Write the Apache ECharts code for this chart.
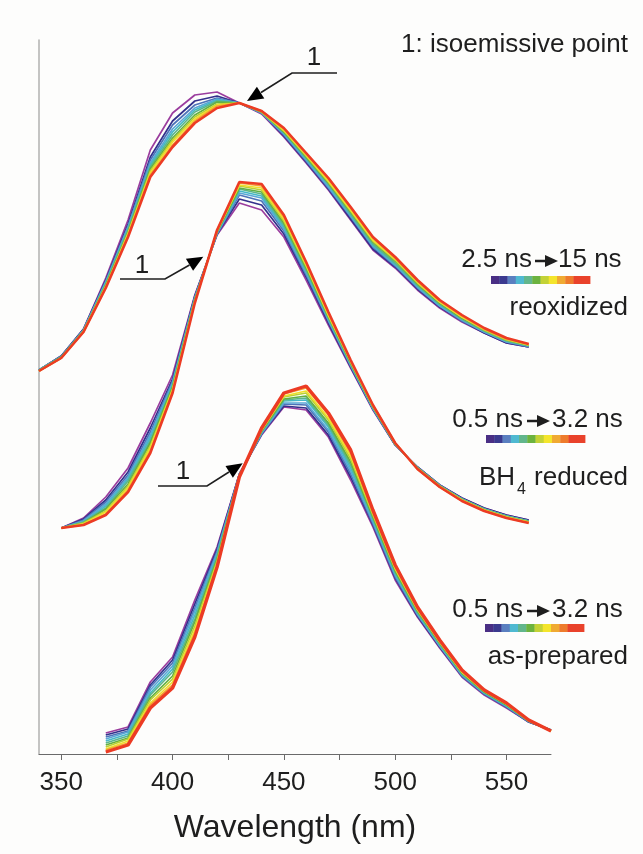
<!DOCTYPE html>
<html>
<head>
<meta charset="utf-8">
<script src="https://cdn.jsdelivr.net/npm/echarts@6/dist/echarts.min.js"></script>
<style>
html, body { margin: 0; padding: 0; background: #fdfdfc; }
#chart { width: 643px; height: 854px; }
</style>
</head>
<body>
<div id="chart"></div>
<script>
// wavelength grids (nm) for the three sets of spectra
const wlReox = [340, 350, 360, 370, 380, 390, 400, 410, 420, 430, 440, 450, 460, 470, 480, 490, 500, 510, 520, 530, 540, 550, 560];
const wlBH4 = [350, 360, 370, 380, 390, 400, 410, 420, 430, 440, 450, 460, 470, 480, 490, 500, 510, 520, 530, 540, 550, 560];
const wlAsPrep = [370, 380, 390, 400, 410, 420, 430, 440, 450, 460, 470, 480, 490, 500, 510, 520, 530, 540, 550, 560, 570];

// gate colours, early (purple) -> late (red)
const gateColors = ['#9b3d9e', '#33308c', '#4e73b8', '#5aa6d6', '#45b8c8', '#5bb58a', '#62b043', '#b9d033', '#f0df2a', '#f3a12e', '#ec3b24'];
const barColors = ['#4a2f85', '#3b3a8f', '#5a7fc0', '#4fb9d1', '#62b68c', '#6cb33f', '#c3d236', '#f4e52c', '#f0aa32', '#ee7b2c', '#e9422b', '#e9422b'];

// intensity (a.u., offset per set), one row per wavelength, one column per gate
const reoxidized = [
  [384, 384, 384, 384, 384, 384, 383, 383, 383, 383, 383],
  [398, 398, 398, 397, 397, 397, 397, 396, 396, 396, 396],
  [425, 425, 424, 424, 424, 423, 423, 423, 422, 422, 422],
  [476, 474, 473, 472, 471, 470, 469, 468, 467, 467, 466],
  [534, 530, 528, 527, 525, 524, 522, 521, 520, 518, 517],
  [604, 597, 594, 591, 589, 587, 585, 583, 581, 579, 577],
  [641, 633, 629, 625, 622, 619, 616, 614, 612, 609, 607],
  [659, 653, 649, 646, 644, 642, 639, 637, 635, 633, 631],
  [662, 658, 656, 655, 654, 653, 652, 650, 649, 648, 646],
  [651, 651, 651, 651, 651, 651, 651, 651, 651, 651, 651],
  [640, 641, 641, 641, 642, 642, 642, 642, 643, 643, 643],
  [617, 618, 619, 620, 621, 622, 622, 623, 624, 625, 626],
  [591, 592, 593, 594, 595, 596, 597, 598, 599, 600, 601],
  [564, 565, 566, 567, 569, 570, 571, 572, 573, 575, 576],
  [534, 535, 537, 538, 539, 540, 542, 543, 544, 546, 547],
  [504, 505, 507, 508, 509, 510, 512, 513, 514, 516, 517],
  [486, 487, 488, 489, 490, 491, 493, 494, 495, 496, 497],
  [464, 465, 466, 467, 468, 469, 470, 471, 472, 473, 474],
  [446, 447, 448, 448, 449, 450, 451, 452, 452, 453, 454],
  [432, 433, 433, 434, 435, 435, 436, 437, 437, 438, 439],
  [421, 421, 422, 422, 423, 423, 424, 424, 425, 425, 426],
  [411, 411, 412, 412, 413, 413, 414, 414, 415, 415, 416],
  [407, 407, 407, 408, 408, 408, 409, 409, 409, 410, 410]
];

const bh4Reduced = [
  [226, 226, 226, 226, 226, 226, 226, 226, 226, 226, 226],
  [236, 235, 234, 233, 232, 232, 231, 231, 230, 229, 229],
  [257, 254, 252, 250, 248, 246, 245, 243, 242, 240, 239],
  [286, 282, 279, 277, 275, 273, 270, 268, 266, 264, 262],
  [331, 326, 322, 319, 316, 313, 311, 308, 306, 303, 301],
  [379, 375, 373, 371, 370, 368, 367, 365, 364, 362, 361],
  [459, 458, 457, 456, 455, 455, 454, 453, 452, 452, 451],
  [519, 520, 520, 521, 521, 522, 522, 523, 523, 524, 524],
  [551, 555, 559, 561, 563, 565, 566, 568, 569, 571, 572],
  [544, 549, 553, 556, 558, 560, 562, 564, 566, 568, 570],
  [517, 520, 523, 525, 527, 529, 531, 533, 535, 537, 539],
  [474, 477, 479, 481, 483, 484, 486, 488, 489, 491, 492],
  [429, 431, 433, 434, 435, 436, 437, 438, 439, 441, 442],
  [386, 387, 388, 389, 390, 390, 391, 392, 393, 393, 394],
  [344, 345, 345, 346, 346, 347, 347, 348, 348, 349, 349],
  [309, 309, 309, 310, 310, 310, 310, 310, 311, 311, 311],
  [287, 287, 287, 286, 286, 286, 286, 286, 285, 285, 285],
  [269, 269, 269, 268, 268, 268, 268, 268, 267, 267, 267],
  [256, 256, 255, 255, 255, 255, 254, 254, 254, 253, 253],
  [246, 246, 245, 245, 245, 245, 244, 244, 244, 243, 243],
  [239, 239, 238, 238, 238, 238, 237, 237, 237, 236, 236],
  [234, 234, 233, 233, 233, 233, 232, 232, 232, 231, 231]
];

const asPrepared = [
  [21, 19, 17, 15, 13, 11, 9, 7, 5, 4, 2],
  [27, 25, 23, 22, 20, 18, 16, 15, 13, 11, 9],
  [72, 69, 67, 64, 61, 59, 56, 54, 51, 49, 46],
  [97, 94, 91, 88, 85, 82, 78, 75, 72, 69, 66],
  [154, 150, 146, 143, 139, 135, 132, 128, 124, 121, 117],
  [207, 205, 203, 201, 199, 197, 195, 193, 191, 189, 187],
  [280, 280, 279, 279, 279, 279, 278, 278, 278, 277, 277],
  [319, 320, 320, 321, 322, 322, 323, 324, 324, 325, 326],
  [347, 348, 350, 351, 353, 354, 355, 357, 358, 360, 361],
  [344, 346, 349, 351, 354, 356, 358, 361, 363, 366, 368],
  [317, 319, 322, 324, 327, 329, 331, 334, 336, 339, 341],
  [274, 277, 280, 283, 286, 289, 292, 295, 298, 301, 304],
  [227, 229, 230, 232, 234, 236, 237, 239, 241, 242, 244],
  [174, 176, 177, 179, 180, 182, 183, 185, 186, 188, 189],
  [137, 138, 139, 140, 141, 142, 143, 144, 145, 146, 147],
  [106, 107, 108, 108, 109, 110, 111, 112, 112, 113, 114],
  [77, 78, 78, 79, 80, 80, 81, 82, 82, 83, 84],
  [59, 60, 60, 61, 61, 62, 62, 63, 63, 64, 64],
  [46, 47, 47, 48, 48, 49, 49, 50, 50, 51, 51],
  [32, 32, 32, 33, 33, 33, 33, 33, 34, 34, 34],
  [24, 24, 24, 24, 24, 24, 23, 23, 23, 23, 23]
];

const xTickValues = [350, 375, 400, 425, 450, 475, 500, 525, 550];
const xLabelValues = [350, 400, 450, 500, 550];

const FONT = '"Liberation Sans", Arial, sans-serif';
const INK = '#1e1e1e';

function groupSeries(wl, rows, redWidth) {
  return gateColors.map((c, k) => ({
    type: 'line',
    data: wl.map((w, i) => [w, rows[i][k]]),
    symbol: 'none',
    silent: true,
    lineStyle: { color: c, width: k === gateColors.length - 1 ? redWidth : 1.7 }
  }));
}

function txt(x, y, s, align, size) {
  return {
    type: 'text', silent: true,
    style: { x: x, y: y, text: s, fill: INK, font: (size || 26) + 'px ' + FONT, textAlign: align, textVerticalAlign: 'middle' }
  };
}

function colorBar(x0, y0) {
  const w = 99 / barColors.length;
  return barColors.map((c, i) => ({
    type: 'rect', silent: true,
    shape: { x: x0 + i * w, y: y0, width: w + 0.4, height: 8 },
    style: { fill: c }
  }));
}

// "2.5 ns -> 15 ns" style label: left text, small arrow, right text
function timeLabel(xl, xa, xr, y, left, right) {
  return [
    txt(xl, y, left, 'right'),
    { type: 'line', silent: true, shape: { x1: xa, y1: y + 1, x2: xa + 12, y2: y + 1 }, style: { stroke: INK, lineWidth: 2.5 } },
    { type: 'polygon', silent: true, shape: { points: [[xa + 10, y - 5], [xa + 23, y + 1], [xa + 10, y + 7]] }, style: { fill: INK } },
    txt(xr, y, right, 'left')
  ];
}

// leader line with arrow head for the isoemissive point marks
function leader(pts, head, label) {
  return [
    { type: 'polyline', silent: true, shape: { points: pts }, style: { stroke: INK, lineWidth: 1.6, fill: null } },
    { type: 'polygon', silent: true, shape: { points: head }, style: { fill: '#000' } },
    txt(label[0], label[1], '1', 'center')
  ];
}

const chart = echarts.init(document.getElementById('chart'));

const graphics = [].concat(
  txt(628, 45, '1: isoemissive point', 'right'),
  timeLabel(532, 535, 558, 260, '2.5 ns', '15 ns'),
  colorBar(491, 276),
  txt(628, 308, 'reoxidized', 'right'),
  timeLabel(523, 527, 552, 420, '0.5 ns', '3.2 ns'),
  colorBar(486, 435),
  txt(515, 478, 'BH', 'right'),
  txt(517, 490, '4', 'left', 16),
  txt(628, 478, 'reduced', 'right'),
  timeLabel(523, 527, 552, 610, '0.5 ns', '3.2 ns'),
  colorBar(485, 624),
  txt(628, 657, 'as-prepared', 'right'),
  leader([[337, 73], [292, 73], [261, 92.5]], [[247, 101], [264.3, 98.5], [256.9, 86.7]], [314, 58]),
  leader([[120, 279], [165, 279], [189.5, 265]], [[203.3, 256.7], [193.1, 270.8], [185.9, 258.8]], [142, 266]),
  leader([[158, 486], [207, 486], [229, 472]], [[242.7, 463.3], [232.9, 477.7], [225.5, 465.9]], [183, 472])
);

chart.setOption({
  backgroundColor: '#fdfdfc',
  animation: false,
  grid: { left: 39, right: 92, top: 40, bottom: 100 },
  xAxis: {
    type: 'value',
    min: 340,
    max: 570,
    name: 'Wavelength (nm)',
    nameLocation: 'middle',
    nameGap: 58,
    nameTextStyle: { fontFamily: FONT, fontSize: 32, color: INK },
    axisLine: { lineStyle: { color: '#6a6a6a', width: 1 } },
    axisTick: { show: true, length: 6, customValues: xTickValues, lineStyle: { color: '#6a6a6a' } },
    axisLabel: { customValues: xLabelValues, fontFamily: FONT, fontSize: 26, color: INK, margin: 16 },
    splitLine: { show: false }
  },
  yAxis: {
    type: 'value',
    min: 0,
    max: 714,
    axisLine: { show: true, lineStyle: { color: '#b0b0b0', width: 1.5 } },
    axisTick: { show: false },
    axisLabel: { show: false },
    splitLine: { show: false }
  },
  series: [].concat(
    groupSeries(wlReox, reoxidized, 2.6),
    groupSeries(wlBH4, bh4Reduced, 2.6),
    groupSeries(wlAsPrep, asPrepared, 3.4)
  ),
  graphic: { elements: graphics }
});
</script>
</body>
</html>
